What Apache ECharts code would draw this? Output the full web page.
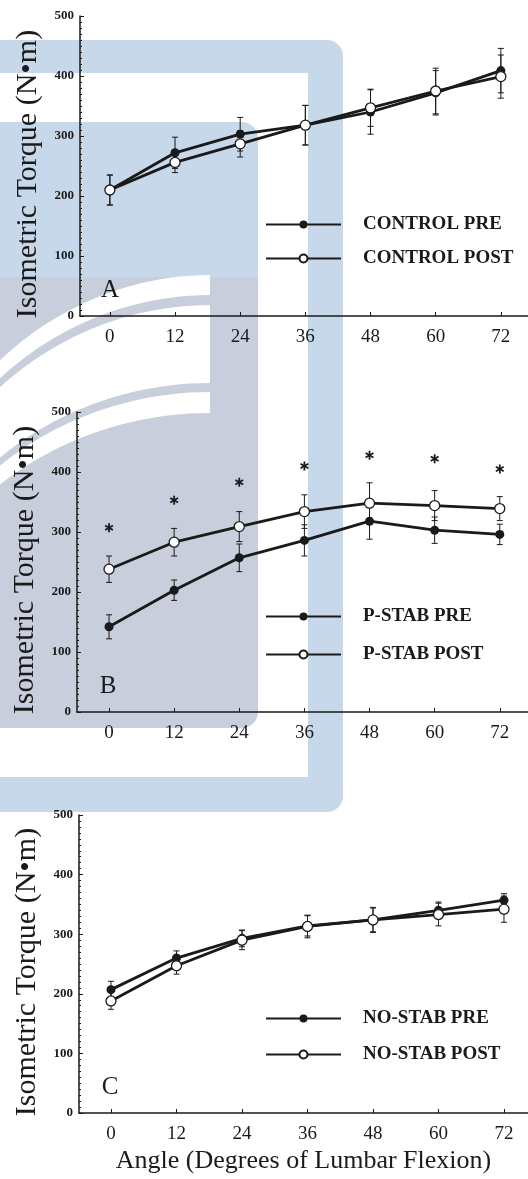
<!DOCTYPE html>
<html>
<head>
<meta charset="utf-8">
<script src="https://cdn.jsdelivr.net/npm/echarts@6.0.0/dist/echarts.min.js"></script>
<style>
  html, body { margin: 0; padding: 0; background: #fff; }
  #torque_chart { width: 528px; height: 1179px; }
</style>
</head>
<body>
<div id="torque_chart"></div>
<script>
// angles (degrees of lumbar flexion)
var angles = [0, 12, 24, 36, 48, 60, 72];

// A - control group
var ctrlPre = [210, 272, 303, 318, 340, 372, 409];
var ctrlPost = [210, 256, 287, 318, 347, 375, 399];
var ctrlPreErr = [25, 26, 28, 33, 37, 37, 37];
var ctrlPostErr = [25, 17, 22, 33, 31, 38, 36];

// B - pelvic stabilisation group
var pstabPre = [142, 203, 257, 286, 318, 303, 296];
var pstabPost = [238, 283, 309, 334, 348, 344, 339];
var pstabPreErr = [20, 17, 23, 26, 30, 22, 17];
var pstabPostErr = [22, 23, 25, 28, 34, 25, 20];
var pstabSig = [307, 353, 383, 410, 428, 422, 405]; // where the * sits

// C - no stabilisation group
var nostabPre = [207, 260, 293, 314, 324, 340, 357];
var nostabPost = [188, 247, 290, 313, 324, 333, 342];
var nostabPreErr = [14, 12, 14, 17, 21, 14, 11];
var nostabPostErr = [14, 14, 16, 19, 20, 19, 22];

var yTicks = [0, 100, 200, 300, 400, 500];
var panelNames = ['A', 'B', 'C'];
var legendNames = [
    ['CONTROL PRE', 'CONTROL POST'],
    ['P-STAB PRE', 'P-STAB POST'],
    ['NO-STAB PRE', 'NO-STAB POST']
];

var FONT = '"Liberation Serif", "Times New Roman", serif';
var INK = '#1a1a1a';

var torque_chart = {
    chart : null,
    init : function() {
        this.chart = echarts.init(document.getElementById('torque_chart'), null, { renderer : 'canvas' });
        this.chart.setOption(this.getOption());
    },
    /**
     * error bar (mean +/- sd) drawn through the axes
     */
    errorSeries : function(idx, vals, errs) {
        return {
            type : 'custom',
            name : 'err' + idx,
            xAxisIndex : idx,
            yAxisIndex : idx,
            silent : true,
            z : 2,
            encode : { x : 0, y : 1 },
            data : angles.map(function(a, i) { return [ a, vals[i], errs[i] ]; }),
            renderItem : function(params, api) {
                var x = api.value(0), y = api.value(1), e = api.value(2);
                var top = api.coord([ x, y + e ]);
                var bot = api.coord([ x, y - e ]);
                var w = 3;
                var st = { stroke : INK, lineWidth : 1 };
                return {
                    type : 'group',
                    children : [
                        { type : 'line', shape : { x1 : top[0], y1 : top[1], x2 : bot[0], y2 : bot[1] }, style : st },
                        { type : 'line', shape : { x1 : top[0] - w, y1 : top[1], x2 : top[0] + w, y2 : top[1] }, style : st },
                        { type : 'line', shape : { x1 : bot[0] - w, y1 : bot[1], x2 : bot[0] + w, y2 : bot[1] }, style : st }
                    ]
                };
            }
        };
    },
    lineSeries : function(idx, name, vals, open) {
        return {
            type : 'line',
            name : name,
            xAxisIndex : idx,
            yAxisIndex : idx,
            data : angles.map(function(a, i) { return [ a, vals[i] ]; }),
            symbol : 'circle',
            symbolSize : open ? 10 : 9,
            z : open ? 4 : 3,
            lineStyle : { color : INK, width : 2.8 },
            itemStyle : {
                color : open ? '#fff' : INK,
                borderColor : INK,
                borderWidth : open ? 1.3 : 0
            },
            emphasis : { disabled : true }
        };
    },
    // significance stars for panel B
    starSeries : function(idx, vals) {
        return {
            type : 'custom',
            name : 'sig',
            xAxisIndex : idx,
            yAxisIndex : idx,
            silent : true,
            encode : { x : 0, y : 1 },
            data : angles.map(function(a, i) { return [ a, vals[i] ]; }),
            renderItem : function(params, api) {
                var p = api.coord([ api.value(0), api.value(1) ]);
                var r = 4.5;
                var kids = [];
                for (var k = 0; k < 3; k++) {
                    var ang = Math.PI / 2 + k * Math.PI / 3;
                    kids.push({
                        type : 'line',
                        shape : {
                            x1 : p[0] - r * Math.cos(ang), y1 : p[1] - r * Math.sin(ang),
                            x2 : p[0] + r * Math.cos(ang), y2 : p[1] + r * Math.sin(ang)
                        },
                        style : { stroke : INK, lineWidth : 1.8 }
                    });
                }
                return { type : 'group', children : kids };
            }
        };
    },
    // background watermark shapes
    swoosh : function(y0, drop) {
        var pts = [];
        for (var k = 0; k <= 24; k++) {
            var t = k / 24, u = 1 - t;
            var x = u * u * u * 210 + 3 * u * u * t * 130 + 3 * u * t * t * 50 + t * t * t * -10;
            var y = (u * u * u + 3 * u * u * t) * y0 + 3 * u * t * t * (y0 + drop * 0.35) + t * t * t * (y0 + drop);
            pts.push([ x, y ]);
        }
        return pts;
    },
    band : function(yTop, yBot) {
        var a = this.swoosh(yTop, 95 - (yTop - 275) * 0.11);
        var b = this.swoosh(yBot, 95 - (yBot - 275) * 0.11).reverse();
        return a.concat(b);
    },
    watermark : function() {
        var blue = '#c6d8ea', grey = '#c9cedd';
        return [
            { type : 'rect', z : -10, silent : true, shape : { x : -20, y : 40, width : 363, height : 772, r : 16 }, style : { fill : blue } },
            { type : 'rect', z : -10, silent : true, shape : { x : -20, y : 73, width : 328, height : 704 }, style : { fill : '#fff' } },
            { type : 'rect', z : -10, silent : true, shape : { x : -20, y : 122, width : 278, height : 170, r : [ 0, 16, 0, 0 ] }, style : { fill : blue } },
            { type : 'rect', z : -10, silent : true, shape : { x : -20, y : 277, width : 278, height : 451, r : [ 0, 0, 16, 0 ] }, style : { fill : grey } },
            { type : 'polygon', z : -9, silent : true, shape : { points : this.band(275, 413) }, style : { fill : '#fff' } },
            { type : 'polygon', z : -8, silent : true, shape : { points : this.band(295, 305) }, style : { fill : grey } },
            { type : 'polygon', z : -8, silent : true, shape : { points : this.band(383, 392) }, style : { fill : grey } }
        ];
    },
    getOption : function() {
        var self = this;
        var grids = [
            { left : 80, top : 16, width : 448, height : 300 },
            { left : 77, top : 412, width : 451, height : 300 },
            { left : 79, top : 815, width : 449, height : 298 }
        ];
        var xRange = [ [ -5.5, 77 ], [ -5.9, 77.2 ], [ -5.86, 76.4 ] ];
        var legendTop = [ 210, 602, 1004 ];
        var legendGap = [ 15, 19, 17 ];
        var letterPos = [ [ 110, 290 ], [ 108, 686 ], [ 110, 1087 ] ];

        var xAxis = [], yAxis = [], legend = [], graphic = this.watermark();
        for (var i = 0; i < 3; i++) {
            xAxis.push({
                type : 'value',
                gridIndex : i,
                min : xRange[i][0],
                max : xRange[i][1],
                splitLine : { show : false },
                axisLine : { onZero : false, lineStyle : { color : INK, width : 1.5 } },
                axisTick : { inside : true, length : 4, customValues : angles, lineStyle : { color : INK } },
                axisLabel : { customValues : angles, margin : 12, fontFamily : FONT, fontSize : 19, color : INK },
                name : i == 2 ? 'Angle (Degrees of Lumbar Flexion)' : '',
                nameLocation : 'middle',
                nameGap : 35,
                nameTextStyle : { fontFamily : FONT, fontSize : 26, color : INK }
            });
            yAxis.push({
                type : 'value',
                gridIndex : i,
                min : yTicks[0],
                max : yTicks[yTicks.length - 1],
                interval : 100,
                splitLine : { show : false },
                axisLine : { show : true, onZero : false, lineStyle : { color : INK, width : 1.5 } },
                axisTick : { show : true, inside : true, length : 4, lineStyle : { color : INK } },
                minorTick : { show : true, splitNumber : 10, length : 2, lineStyle : { color : INK } },
                axisLabel : { margin : 6, fontFamily : FONT, fontSize : 13, fontWeight : 'bold', color : INK },
                name : 'Isometric Torque (N•m)',
                nameLocation : 'middle',
                nameRotate : 90,
                nameGap : 36,
                nameTextStyle : { fontFamily : FONT, fontSize : 30, color : INK, padding : [ 0, 16, 0, 0 ] }
            });
            legend.push({
                data : legendNames[i],
                orient : 'vertical',
                left : 260,
                top : legendTop[i],
                itemWidth : 75,
                itemHeight : 10,
                itemGap : legendGap[i],
                selectedMode : false,
                textStyle : { fontFamily : FONT, fontSize : 19, fontWeight : 'bold', color : INK, padding : [ 0, 0, 0, 17 ] }
            });
            graphic.push({
                type : 'text',
                x : letterPos[i][0],
                y : letterPos[i][1],
                style : {
                    text : panelNames[i],
                    fontFamily : FONT,
                    fontSize : 25,
                    fill : INK,
                    align : 'center',
                    verticalAlign : 'middle'
                }
            });
        }

        var series = [
            self.errorSeries(0, ctrlPre, ctrlPreErr),
            self.errorSeries(0, ctrlPost, ctrlPostErr),
            self.lineSeries(0, legendNames[0][0], ctrlPre, false),
            self.lineSeries(0, legendNames[0][1], ctrlPost, true),
            self.errorSeries(1, pstabPre, pstabPreErr),
            self.errorSeries(1, pstabPost, pstabPostErr),
            self.lineSeries(1, legendNames[1][0], pstabPre, false),
            self.lineSeries(1, legendNames[1][1], pstabPost, true),
            self.starSeries(1, pstabSig),
            self.errorSeries(2, nostabPre, nostabPreErr),
            self.errorSeries(2, nostabPost, nostabPostErr),
            self.lineSeries(2, legendNames[2][0], nostabPre, false),
            self.lineSeries(2, legendNames[2][1], nostabPost, true)
        ];

        return {
            backgroundColor : '#fff',
            animation : false,
            grid : grids,
            xAxis : xAxis,
            yAxis : yAxis,
            legend : legend,
            graphic : { elements : graphic },
            series : series
        };
    }
};

torque_chart.init();
</script>
</body>
</html>
